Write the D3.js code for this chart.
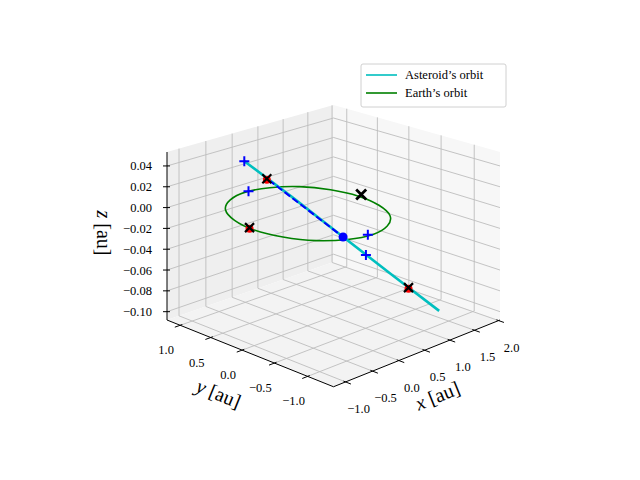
<!DOCTYPE html>
<html lang="en">
<head>
<meta charset="UTF-8">
<script src="https://cdn.jsdelivr.net/npm/d3@7"></script>
<style>
  body { margin: 0; background: #fff; }
  text { font-family: "Liberation Serif", "DejaVu Serif", serif; fill: #000; }
</style>
</head>
<body>
<svg id="chart" width="640" height="480"></svg>
<script>
// axis limits and ticks
var xLim = [-1.22, 2.03], yLim = [-1.38, 1.22], zLim = [-0.108, 0.0534];
var xTicks = [-1.0, -0.5, 0.0, 0.5, 1.0, 1.5, 2.0];
var yTicks = [-1.0, -0.5, 0.0, 0.5, 1.0];
var zTicks = [-0.10, -0.08, -0.06, -0.04, -0.02, 0.00, 0.02, 0.04];

// Earth's orbit (au)
var earthX = [1.00, 0.92, 0.71, 0.38, 0.00, -0.38, -0.71, -0.92, -1.00, -0.92, -0.71, -0.38, 0.00, 0.38, 0.71, 0.92];
var earthY = [0.00, 0.38, 0.71, 0.92, 1.00, 0.92, 0.71, 0.38, 0.00, -0.38, -0.71, -0.92, -1.00, -0.92, -0.71, -0.38];

// asteroid's orbit
var astX = [-0.16, 0.18, 0.52, 0.85, 1.17];
var astY = [0.88, 0.38, -0.14, -0.62, -1.10];
var astZ = [0.035, 0.004, -0.029, -0.060, -0.090];

// dashed segment
var dashX = [0.01, 0.522], dashY = [0.627, -0.136], dashZ = [0.019, -0.029];
// blue dot
var dot = [0.522, -0.136, -0.029];
// blue plus markers
var plusPts = [[-0.16, 0.88, 0.035], [0.06, 1.0, 0.0], [-0.06, -0.97, 0.0], [0.678, -0.367, -0.044]];
// black x markers (with red below)
var xRedPts = [[-0.003, 0.646, 0.020], [-0.98, 0.09, 0.0], [0.965, -0.795, -0.071]];
var xOnlyPts = [[1.08, 0.02, 0.0]];

var svg = d3.select('#chart');
var sx = d3.scaleLinear().domain(xLim).range([0, 1]);
var sy = d3.scaleLinear().domain(yLim).range([0, 1]);
var sz = d3.scaleLinear().domain(zLim).range([0, 1]);

function proj(x, y, z) {
  var X = sx(x), Y = sy(y), Z = sz(z);
  var px = 333.5 + 166.5 * (X - Y);
  var py = 376.2 - 56.2 * (X + Y) - 168 * Z;
  var k = 1 / (1 + 0.14 * ((X + Y) / 2 - 0.5));
  return [333.5 + (px - 333.5) * k, 236 + (py - 236) * k];
}
function poly(pts) { return pts.map(function (p) { return proj(p[0], p[1], p[2]).join(','); }).join(' '); }

var x0 = xLim[0], x1 = xLim[1], y0 = yLim[0], y1 = yLim[1], z0 = zLim[0], z1 = zLim[1];

// panes
svg.append('polygon').attr('points', poly([[x0, y1, z0], [x1, y1, z0], [x1, y1, z1], [x0, y1, z1]])).attr('fill', '#efefef');
svg.append('polygon').attr('points', poly([[x1, y0, z0], [x1, y1, z0], [x1, y1, z1], [x1, y0, z1]])).attr('fill', '#f7f7f7');
svg.append('polygon').attr('points', poly([[x0, y0, z0], [x1, y0, z0], [x1, y1, z0], [x0, y1, z0]])).attr('fill', '#f3f3f3');

var grid = svg.append('g').attr('stroke', '#bdbdbd').attr('stroke-width', 0.9).attr('fill', 'none');
function seg(g, a, b) {
  var p = proj(a[0], a[1], a[2]), q = proj(b[0], b[1], b[2]);
  return g.append('line').attr('x1', p[0]).attr('y1', p[1]).attr('x2', q[0]).attr('y2', q[1]);
}
xTicks.forEach(function (x) {
  seg(grid, [x, y0, z0], [x, y1, z0]);
  seg(grid, [x, y1, z0], [x, y1, z1]);
});
yTicks.forEach(function (y) {
  seg(grid, [x0, y, z0], [x1, y, z0]);
  seg(grid, [x1, y, z0], [x1, y, z1]);
});
zTicks.forEach(function (z) {
  seg(grid, [x0, y1, z], [x1, y1, z]);
  seg(grid, [x1, y1, z], [x1, y0, z]);
});

// axes
var ax = svg.append('g').attr('stroke', '#000').attr('stroke-width', 1);
seg(ax, [x0, y0, z0], [x1, y0, z0]);
seg(ax, [x0, y0, z0], [x0, y1, z0]);
seg(ax, [x0, y1, z0], [x0, y1, z1]);
var ty = 0.03 * (y1 - y0), tx = 0.03 * (x1 - x0);
xTicks.forEach(function (x) {
  seg(ax, [x, y0 + ty * 0.4, z0], [x, y0 - ty, z0]);
  var p = proj(x, y0, z0);
  svg.append('text').attr('x', p[0] + 13).attr('y', p[1] + 31).attr('text-anchor', 'middle')
    .style('font-size', '12.5px').text(d3.format('.1f')(x).replace('-', '\u2212'));
});
yTicks.forEach(function (y) {
  seg(ax, [x0 + tx * 0.4, y, z0], [x0 - tx, y, z0]);
  var p = proj(x0, y, z0);
  svg.append('text').attr('x', p[0] - 14).attr('y', p[1] + 29).attr('text-anchor', 'middle')
    .style('font-size', '12.5px').text(d3.format('.1f')(y).replace('-', '\u2212'));
});
zTicks.forEach(function (z) {
  var p = proj(x0, y1, z);
  ax.append('line').attr('x1', p[0] - 4).attr('y1', p[1]).attr('x2', p[0] + 3).attr('y2', p[1]);
  svg.append('text').attr('x', p[0] - 15).attr('y', p[1] + 4.5).attr('text-anchor', 'end')
    .style('font-size', '12.5px').text(d3.format('.2f')(z).replace('-', '\u2212'));
});

// axis labels
function axLabel(x, y, rot, name) {
  var t = svg.append('text').attr('transform', 'translate(' + x + ',' + y + ') rotate(' + rot + ')')
    .attr('text-anchor', 'middle').style('font-size', '20px');
  t.append('tspan').style('font-style', 'italic').text(name);
  t.append('tspan').text(' [au]');
}
axLabel(440, 402, -22, 'x');
axLabel(216, 400, 22, 'y');
axLabel(97, 233, 90, 'z');

// data
svg.append('path')
  .attr('d', d3.line().curve(d3.curveCardinalClosed)(earthX.map(function (x, i) { return proj(x, earthY[i], 0); })))
  .attr('fill', 'none').attr('stroke', '#008000').attr('stroke-width', 1.6);
svg.append('path')
  .attr('d', d3.line()(astX.map(function (x, i) { return proj(x, astY[i], astZ[i]); })))
  .attr('fill', 'none').attr('stroke', '#00bfbf').attr('stroke-width', 2.6);
svg.append('path')
  .attr('d', d3.line()(dashX.map(function (x, i) { return proj(x, dashY[i], dashZ[i]); })))
  .attr('fill', 'none').attr('stroke', '#0000ff').attr('stroke-width', 2).attr('stroke-dasharray', '7,3');

var dp = proj(dot[0], dot[1], dot[2]);
svg.append('circle').attr('cx', dp[0]).attr('cy', dp[1]).attr('r', 4.5).attr('fill', '#0000ff');

plusPts.forEach(function (d) {
  var p = proj(d[0], d[1], d[2]);
  svg.append('path').attr('d', 'M' + (p[0] - 5) + ',' + p[1] + 'h10M' + p[0] + ',' + (p[1] - 5) + 'v10')
    .attr('stroke', '#0000ff').attr('stroke-width', 2);
});
function cross(p, r, col, w) {
  svg.append('path').attr('d', 'M' + (p[0] - r) + ',' + (p[1] - r) + 'l' + 2 * r + ',' + 2 * r + 'M' + (p[0] - r) + ',' + (p[1] + r) + 'l' + 2 * r + ',' + (-2 * r))
    .attr('stroke', col).attr('stroke-width', w);
}
xRedPts.forEach(function (d) {
  var p = proj(d[0], d[1], d[2]);
  svg.append('circle').attr('cx', p[0]).attr('cy', p[1] + 1).attr('r', 4).attr('fill', '#ff0000');
  cross(p, 4.5, '#000', 2.2);
});
xOnlyPts.forEach(function (d) {
  cross(proj(d[0], d[1], d[2]), 5, '#000', 2.8);
});

// legend
var lg = svg.append('g').attr('transform', 'translate(361,64)');
lg.append('rect').attr('width', 145).attr('height', 43).attr('rx', 2).attr('fill', '#fff').attr('fill-opacity', 0.8).attr('stroke', '#d0d0d0');
[['Asteroid\u2019s orbit', '#00bfbf'], ['Earth\u2019s orbit', '#008000']].forEach(function (e, i) {
  var yy = 11 + i * 18;
  lg.append('line').attr('x1', 5).attr('x2', 36).attr('y1', yy).attr('y2', yy).attr('stroke', e[1]).attr('stroke-width', 1.6);
  lg.append('text').attr('x', 44).attr('y', yy + 4).style('font-size', '12.5px').text(e[0]);
});
</script>
</body>
</html>
